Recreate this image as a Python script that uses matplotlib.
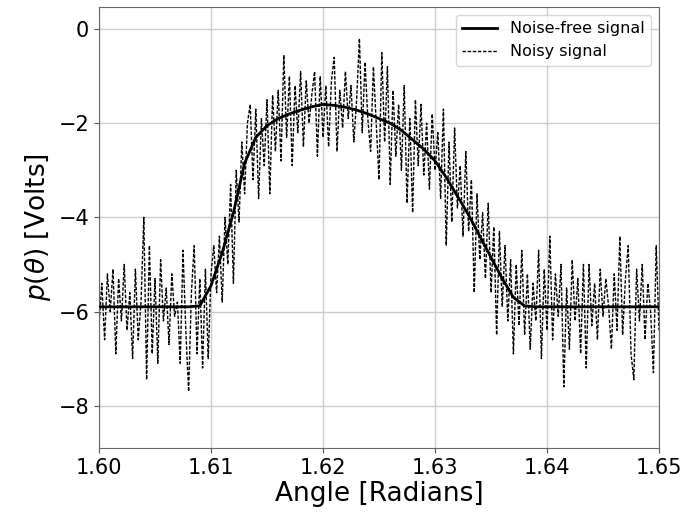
import numpy as np
import matplotlib
matplotlib.use("Agg")
import matplotlib.pyplot as plt
from matplotlib.ticker import FormatStrFormatter

# noise-free signal, read every 0.001 rad
clean_angle = np.round(np.arange(1.600, 1.6505, 0.001), 3)
clean_volts = [-5.9, -5.9, -5.9, -5.9, -5.9, -5.9, -5.9, -5.9, -5.9, -5.88,
               -5.45, -4.75, -3.9, -2.85, -2.3, -2.05, -1.9, -1.8, -1.72, -1.65,
               -1.6, -1.62, -1.66, -1.72, -1.8, -1.9, -2.0, -2.15, -2.35, -2.55,
               -2.8, -3.15, -3.55, -3.95, -4.4, -4.85, -5.3, -5.7, -5.88,
               -5.9, -5.9, -5.9, -5.9, -5.9, -5.9, -5.9, -5.9, -5.9, -5.9, -5.9, -5.9]

# noisy signal, 201 samples between 1.60 and 1.65 rad
noisy_angle = np.linspace(1.600, 1.650, 201)
noisy_volts = [
    -6.3, -5.4, -6.6, -5.2, -6.0, -5.1, -6.9, -5.3, -6.2, -5.0,
    -6.4, -5.6, -7.0, -5.1, -6.6, -5.8, -4.0, -7.45, -4.6, -6.9,
    -5.3, -7.1, -4.9, -6.2, -5.5, -6.7, -5.2, -6.1, -5.8, -7.1,
    -4.7, -6.4, -7.7, -5.6, -4.6, -6.9, -5.3, -7.2, -5.1, -7.0,
    -5.2, -4.6, -5.6, -4.4, -5.8, -4.0, -5.0, -3.3, -5.4, -3.0,
    -4.1, -2.4, -3.5, -2.0, -1.6, -3.2, -1.7, -3.6, -1.9, -2.9,
    -1.5, -3.5, -1.4, -2.6, -1.3, -2.8, -0.55, -2.3, -1.0, -2.9,
    -1.2, -2.2, -0.9, -2.5, -1.1, -2.0, -1.4, -0.9, -2.7, -1.0,
    -2.3, -1.2, -2.5, -1.1, -0.6, -2.6, -1.3, -2.1, -0.9, -1.9,
    -1.2, -2.4, -1.5, -0.2, -2.2, -0.7, -1.9, -2.6, -0.8, -2.0,
    -3.2, -0.5, -2.4, -0.8, -3.3, -1.3, -2.7, -1.6, -3.0, -1.2,
    -3.7, -1.9, -3.9, -1.5, -2.9, -1.6, -3.1, -2.0, -3.4, -1.8,
    -3.0, -2.2, -3.6, -1.7, -4.6, -2.4, -4.1, -2.1, -3.8, -2.9,
    -4.4, -2.6, -4.3, -3.2, -5.6, -3.5, -4.9, -3.9, -5.3, -3.7,
    -5.6, -4.2, -6.5, -4.3, -5.9, -4.6, -6.2, -4.9, -6.9, -5.0,
    -6.3, -4.7, -6.5, -5.2, -6.8, -5.4, -6.2, -4.7, -7.0, -5.1,
    -6.4, -4.4, -6.6, -5.2, -6.1, -5.0, -7.6, -5.5, -6.8, -4.9,
    -6.2, -5.3, -6.9, -5.0, -7.2, -5.0, -6.3, -5.4, -6.6, -5.1,
    -6.1, -5.3, -5.9, -6.8, -5.2, -6.4, -4.4, -6.5, -5.3, -4.6,
    -6.9, -7.45, -5.1, -6.2, -5.0, -6.6, -5.4, -6.0, -7.3, -4.6, -6.4,
]

x_ticks = [1.60, 1.61, 1.62, 1.63, 1.64, 1.65]
y_ticks = [0, -2, -4, -6, -8]

fig = plt.figure(figsize=(6.89, 5.23), dpi=100)
ax = fig.add_axes([0.1437, 0.1434, 0.8128, 0.8432])

ax.plot(clean_angle, clean_volts, color="black", lw=2.0, label="Noise-free signal", zorder=3)
ax.plot(noisy_angle, noisy_volts, color="black", lw=1.0, ls="--", dashes=(2.5, 1.2),
        label="Noisy signal", zorder=2)

ax.set_xlim(1.60, 1.65)
ax.set_ylim(-8.9, 0.47)
ax.set_xticks(x_ticks)
ax.set_yticks(y_ticks)
ax.xaxis.set_major_formatter(FormatStrFormatter("%.2f"))
ax.tick_params(labelsize=15, color="#555555")
ax.grid(True, color="#cccccc", lw=1.0)
ax.set_axisbelow(True)
for s in ax.spines.values():
    s.set_color("#666666")

ax.set_xlabel("Angle [Radians]", fontsize=19, labelpad=2)
ax.set_ylabel(r"$p(\theta)$ [Volts]", fontsize=19, labelpad=4)
ax.legend(loc="upper right", fontsize=11.5, handlelength=2.2)

fig.savefig("out.png", dpi=100)
